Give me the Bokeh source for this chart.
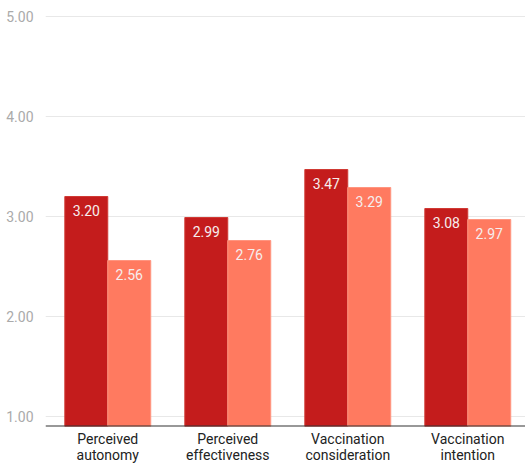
from bokeh.plotting import figure
from bokeh.models import ColumnDataSource, Range1d, FixedTicker, LabelSet
from bokeh.core.properties import value
from bokeh.embed import file_html
from bokeh.resources import INLINE

categories = ["Perceived\nautonomy", "Perceived\neffectiveness",
              "Vaccination\nconsideration", "Vaccination\nintention"]
series_a = [3.20, 2.99, 3.47, 3.08]
series_b = [2.56, 2.76, 3.29, 2.97]
y_ticks = [1, 2, 3, 4, 5]

dark = "#c41c1c"
light = "#ff7a60"
bar_w = 0.358
base = 0.9

centers = [i + 0.5 for i in range(len(categories))]
src = ColumnDataSource(dict(
    xa=[c - bar_w / 2 for c in centers],
    xb=[c + bar_w / 2 for c in centers],
    a=series_a, b=series_b,
    la=[f"{v:.2f}" for v in series_a],
    lb=[f"{v:.2f}" for v in series_b],
))

p = figure(width=525, height=466, output_backend="svg", toolbar_location=None,
           x_range=Range1d(-0.019, 3.981), y_range=Range1d(base, 5.16),
           min_border_left=45, min_border_right=0, min_border_top=0,
           min_border_bottom=40)
p.outline_line_color = None
p.background_fill_color = "white"
p.border_fill_color = "white"

p.vbar(x="xa", width=bar_w, top="a", bottom=base, source=src,
       fill_color=dark, line_color="#d03a34", line_width=1)
p.vbar(x="xb", width=bar_w, top="b", bottom=base, source=src,
       fill_color=light, line_color="#ff9580", line_width=1)

for xcol, ycol, tcol in (("xa", "a", "la"), ("xb", "b", "lb")):
    p.add_layout(LabelSet(x=xcol, y=ycol, text=tcol, source=src,
                          text_align="center", text_baseline="middle",
                          y_offset=-14, text_color="#f6eeee",
                          text_font=value("Roboto"), text_font_size="14px"))

# baseline
p.line(x=[-0.019, 3.981], y=[base, base], line_color="#333333", line_width=2)

p.xgrid.grid_line_color = None
p.ygrid.grid_line_color = "#e8e8e8"
p.ygrid.ticker = FixedTicker(ticks=y_ticks)

p.yaxis.ticker = FixedTicker(ticks=y_ticks)
p.yaxis.major_label_overrides = {t: f"{t:.2f}" for t in y_ticks}
p.yaxis.axis_line_color = None
p.yaxis.major_tick_line_color = None
p.yaxis.minor_tick_line_color = None
p.yaxis.major_label_text_color = "#aaaaaa"
p.yaxis.major_label_text_font = "Roboto"
p.yaxis.major_label_text_font_size = "14px"
p.yaxis.major_label_standoff = 6

p.xaxis.ticker = FixedTicker(ticks=centers)
p.xaxis.major_label_overrides = {c: lab for c, lab in zip(centers, categories)}
p.xaxis.axis_line_color = None
p.xaxis.major_tick_line_color = None
p.xaxis.minor_tick_line_color = None
p.xaxis.major_tick_out = 0
p.xaxis.major_tick_in = 0
p.xaxis.major_label_text_color = "#222222"
p.xaxis.major_label_text_font = "Roboto"
p.xaxis.major_label_text_font_size = "14px"
p.xaxis.major_label_text_line_height = 1.05
p.xaxis.major_label_standoff = 4

open("out.html", "w").write(file_html(p, INLINE))
